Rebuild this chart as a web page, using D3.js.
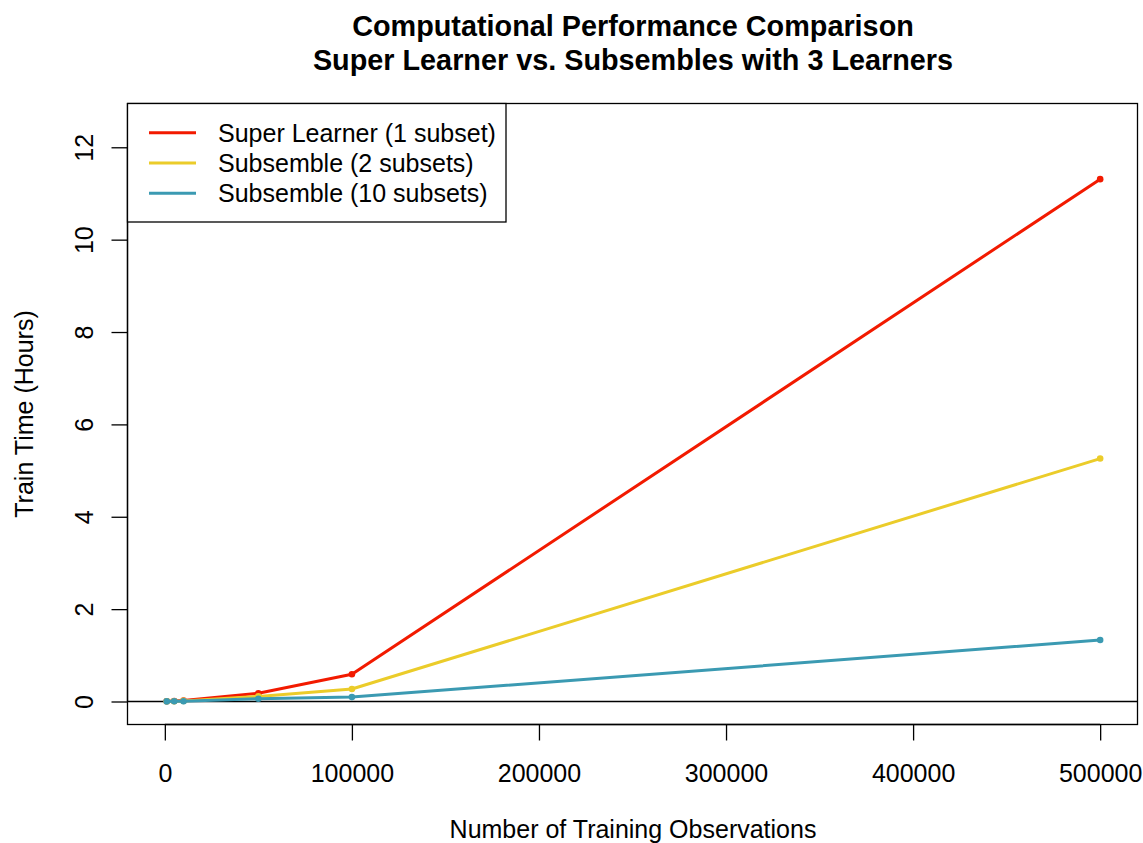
<!DOCTYPE html>
<html>
<head>
<meta charset="utf-8">
<script src="https://cdn.jsdelivr.net/npm/d3@7"></script>
<style>
  html, body { margin: 0; padding: 0; background: #fff; }
  svg { display: block; font-family: "Liberation Sans", Arial, Helvetica, sans-serif; }
</style>
</head>
<body>
<svg id="chart" width="1143" height="843"></svg>
<script>
// ---- data ----
const observations = [1000, 5000, 10000, 50000, 100000, 500000];
const superLearner = [0.004, 0.01, 0.02, 0.18, 0.59, 11.31];
const subsemble2 = [0.003, 0.007, 0.013, 0.11, 0.27, 5.26];
const subsemble10 = [0.002, 0.004, 0.007, 0.06, 0.095, 1.33];
const seriesNames = ["Super Learner (1 subset)", "Subsemble (2 subsets)", "Subsemble (10 subsets)"];
const seriesColors = ["#F21A00", "#EBCC2A", "#3B9AB2"];
const xTicks = [0, 100000, 200000, 300000, 400000, 500000];
const yTicks = [0, 2, 4, 6, 8, 10, 12];
const titleLines = ["Computational Performance Comparison", "Super Learner vs. Subsembles with 3 Learners"];
const xLabel = "Number of Training Observations";
const yLabel = "Train Time (Hours)";

// ---- layout ----
const box = { left: 127.5, right: 1137.5, top: 103.5, bottom: 724.5 };
const svg = d3.select("#chart");
const fs = 25;

const x = d3.scaleLinear().domain([-19960, 519960]).range([box.left, box.right]);
const y = d3.scaleLinear().domain([-0.498, 12.948]).range([box.bottom, box.top]);

// titles
svg.append("g").selectAll("text").data(titleLines).join("text")
  .attr("x", 633).attr("y", (d, i) => 35.5 + i * 34.6)
  .attr("text-anchor", "middle").attr("font-weight", "bold").attr("font-size", 28.8)
  .attr("fill", "#000").text(d => d);

// axes
const xAxis = d3.axisBottom(x).tickValues(xTicks).tickFormat(d3.format("d")).tickSize(16).tickSizeOuter(0);
const gx = svg.append("g").attr("transform", `translate(0,${box.bottom})`).call(xAxis);
gx.select(".domain").attr("d", `M${x(0)},0H${x(500000)}`);
gx.selectAll("line").attr("stroke", "#000").attr("stroke-width", 1.3);
gx.select(".domain").attr("stroke", "#000").attr("stroke-width", 1.3);
gx.selectAll("text").attr("font-size", fs).attr("font-family", "Liberation Sans, Arial, sans-serif")
  .attr("fill", "#000").attr("dy", null).attr("y", 57.5);

const yAxis = d3.axisLeft(y).tickValues(yTicks).tickSize(16).tickSizeOuter(0);
const gy = svg.append("g").attr("transform", `translate(${box.left},0)`).call(yAxis);
gy.select(".domain").attr("d", `M0,${y(0)}V${y(12)}`).attr("stroke", "#000").attr("stroke-width", 1.3);
gy.selectAll("line").attr("stroke", "#000").attr("stroke-width", 1.3);
gy.selectAll(".tick text")
  .attr("font-size", fs).attr("font-family", "Liberation Sans, Arial, sans-serif").attr("fill", "#000")
  .attr("x", null).attr("dy", null).attr("text-anchor", "middle")
  .attr("transform", "translate(-44,0) rotate(-90)")
  .attr("y", 0).attr("dominant-baseline", "central");

// box
svg.append("rect").attr("x", box.left).attr("y", box.top)
  .attr("width", box.right - box.left).attr("height", box.bottom - box.top)
  .attr("fill", "none").attr("stroke", "#000").attr("stroke-width", 1.3);

// axis labels
svg.append("text").attr("x", 633).attr("y", 838).attr("text-anchor", "middle")
  .attr("font-size", fs).attr("fill", "#000").text(xLabel);
svg.append("text").attr("transform", `translate(33,${(box.top + box.bottom) / 2}) rotate(-90)`)
  .attr("text-anchor", "middle").attr("font-size", fs).attr("fill", "#000").text(yLabel);

// h line at 0
svg.append("line").attr("x1", box.left).attr("x2", box.right)
  .attr("y1", y(0)).attr("y2", y(0)).attr("stroke", "#000").attr("stroke-width", 1.3);

// series
const allSeries = [superLearner, subsemble2, subsemble10];
const line = d3.line().x((d, i) => x(observations[i])).y(d => y(d));
allSeries.forEach((vals, si) => {
  const g = svg.append("g");
  g.append("path").datum(vals).attr("d", line).attr("fill", "none")
    .attr("stroke", seriesColors[si]).attr("stroke-width", 3).attr("stroke-linejoin", "round");
  g.selectAll("circle").data(vals).join("circle")
    .attr("cx", (d, i) => x(observations[i])).attr("cy", d => y(d)).attr("r", 3.3)
    .attr("fill", seriesColors[si]);
});

// legend
const leg = svg.append("g");
leg.append("rect").attr("x", box.left).attr("y", box.top).attr("width", 506 - box.left).attr("height", 222 - box.top)
  .attr("fill", "#fff").attr("stroke", "#000").attr("stroke-width", 1.3);
seriesNames.forEach((name, i) => {
  const ly = 132.7 + i * 30.3;
  leg.append("line").attr("x1", 149).attr("x2", 196).attr("y1", ly).attr("y2", ly)
    .attr("stroke", seriesColors[i]).attr("stroke-width", 3);
  leg.append("text").attr("x", 218).attr("y", ly).attr("dominant-baseline", "central")
    .attr("font-size", fs).attr("fill", "#000").text(name);
});
</script>
</body>
</html>
